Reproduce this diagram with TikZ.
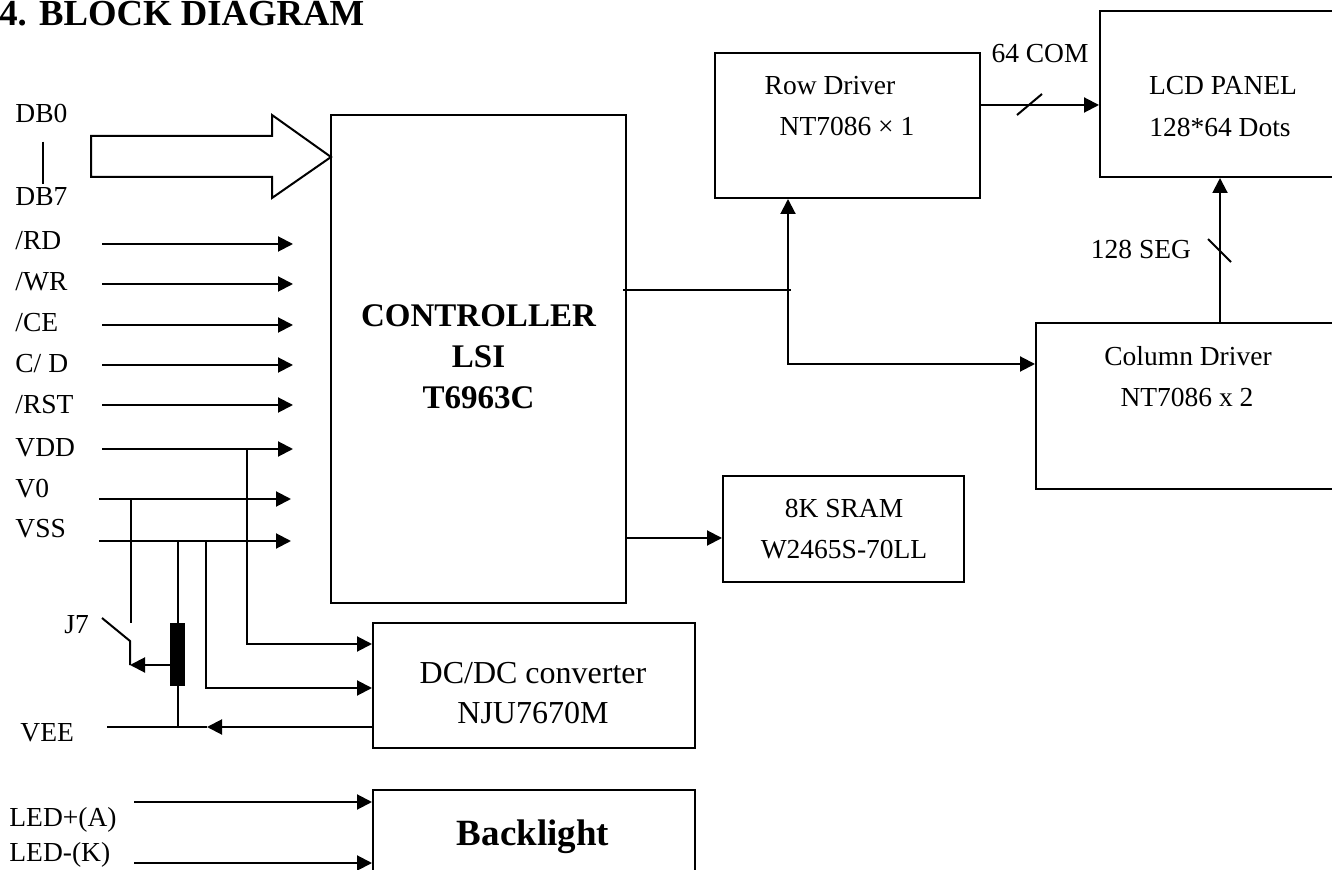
\documentclass[tikz,border=0pt]{standalone}
\usepackage{fontspec}
\setmainfont{Liberation Serif}
\usetikzlibrary{arrows.meta}

\tikzset{
    blk/.style={draw, line width=1pt, inner sep=0pt},
    wire/.style={line width=1pt},
    sig/.style={line width=1pt, -{Triangle[length=7.5pt,width=7.5pt]}},
    txt/.style={font=\fontsize{13.75}{16}\selectfont, anchor=base, inner sep=0pt},
    lbl/.style={txt, anchor=base west},
}

\begin{document}
\begin{tikzpicture}[x=0.5pt, y=-0.5pt]
    \useasboundingbox (0,0) rectangle (1332,870);
    \fill[white] (0,0) rectangle (1332,870);

    % title
    \node[lbl, font=\fontsize{18.35}{22}\selectfont\bfseries] (title) at (-1,26) {4. BLOCK DIAGRAM};

    % blocks
    \node[blk, minimum width=147.5pt, minimum height=244pt] (ctrl) at (478.5,359) {};
    \node[blk, minimum width=132.5pt, minimum height=72.5pt] (row) at (847.5,125.5) {};
    \node[blk, minimum width=121pt, minimum height=83pt] (lcd) at (1221,94) {};
    \node[blk, minimum width=152pt, minimum height=83pt] (col) at (1188,406) {};
    \node[blk, minimum width=120.5pt, minimum height=53pt] (sram) at (843.5,529) {};
    \node[blk, minimum width=161pt, minimum height=62.5pt] (dcdc) at (534,685.5) {};
    \node[blk, minimum width=161pt, minimum height=50pt] (blt) at (534,840) {};
    \node[fill, inner sep=0pt, minimum width=7.5pt, minimum height=31.5pt] (pot) at (177.5,654.5) {};

    % block texts
    \node[txt, font=\fontsize{16.5}{20}\selectfont\bfseries] (ctrlT1) at (478.5,327) {CONTROLLER};
    \node[txt, font=\fontsize{16.5}{20}\selectfont\bfseries] (ctrlT2) at (478.5,368) {LSI};
    \node[txt, font=\fontsize{16.5}{20}\selectfont\bfseries] (ctrlT3) at (478.5,409) {T6963C};
    \node[txt] (rowT1) at (830,95) {Row Driver};
    \node[txt] (rowT2) at (847,136) {NT7086 × 1};
    \node[txt] (lcdT1) at (1223,95) {LCD PANEL};
    \node[txt] (lcdT2) at (1220,137) {128*64 Dots};
    \node[txt] (colT1) at (1188,366) {Column Driver};
    \node[txt] (colT2) at (1187,407) {NT7086 x 2};
    \node[txt] (sramT1) at (844,518) {8K SRAM};
    \node[txt] (sramT2) at (844,559) {W2465S-70LL};
    \node[txt, font=\fontsize{16}{19}\selectfont] (dcdcT1) at (533,683) {DC/DC converter};
    \node[txt, font=\fontsize{16}{19}\selectfont] (dcdcT2) at (533,723) {NJU7670M};
    \node[txt, font=\fontsize{18.5}{22}\selectfont\bfseries] (bltT) at (533,845) {Backlight};

    % data bus
    \node[lbl] (db0) at (15,123) {DB0};
    \node[lbl] (db7) at (15,206) {DB7};
    \draw[wire] ([shift={(2,18)}]db0.south) -- ++(0,42);
    \coordinate (busTip) at (331,157);
    \draw[wire] (91,136) -- (272,136) -- (272,115) -- (busTip) -- (272,198) -- (272,177) -- (91,177) -- cycle;

    % control inputs
    \coordinate (inEnd) at (293,0);
    \node[lbl] (rd) at (15,250) {/RD};
    \coordinate (rdS) at (102,244);
    \draw[sig] (rdS) -- (rdS -| inEnd);
    \node[lbl] (wr) at (15,291) {/WR};
    \coordinate (wrS) at (102,284);
    \draw[sig] (wrS) -- (wrS -| inEnd);
    \node[lbl] (ce) at (15,332) {/CE};
    \coordinate (ceS) at (102,325);
    \draw[sig] (ceS) -- (ceS -| inEnd);
    \node[lbl] (cd) at (15,373) {C/ D};
    \coordinate (cdS) at (102,365);
    \draw[sig] (cdS) -- (cdS -| inEnd);
    \node[lbl] (rst) at (15,414) {/RST};
    \coordinate (rstS) at (102,405);
    \draw[sig] (rstS) -- (rstS -| inEnd);

    % power
    \node[lbl] (vdd) at (15,457) {VDD};
    \coordinate (vddS) at (102,449);
    \draw[sig] (vddS) -- (vddS -| inEnd);
    \node[lbl] (v0) at (15,498) {V0};
    \coordinate (v0S) at (99,499);
    \draw[sig] (v0S) -- ([xshift=-1pt]v0S -| inEnd);
    \node[lbl] (vss) at (15,538) {VSS};
    \coordinate (vssS) at (99,541);
    \draw[sig] (vssS) -- ([xshift=-1pt]vssS -| inEnd);

    % dc/dc wiring
    \coordinate (vddJ) at (247,449);
    \coordinate (v0J) at (131,499);
    \coordinate (vssJ1) at (178,541);
    \coordinate (vssJ2) at (206,541);
    \coordinate (dcIn1) at (0,644);
    \coordinate (dcIn2) at (0,688);
    \draw[sig] (vddJ) |- (dcdc.west |- dcIn1);
    \draw[sig] (vssJ2) |- (dcdc.west |- dcIn2);
    \draw[wire] (vssJ1) -- (vssJ1 |- pot.north);

    % J7 switch
    \node[lbl] (j7) at (64,633) {J7};
    \coordinate (swTop) at (131,623);
    \coordinate (swEnd) at (102,618);
    \coordinate (swPiv) at (130,641);
    \coordinate (wiper) at (130,665);
    \draw[wire] (v0J) -- (swTop);
    \draw[wire] (swEnd) -- (swPiv) -- (wiper);
    \draw[sig] (pot.west |- wiper) -- (wiper);

    % VEE
    \node[lbl] (vee) at (20,741) {VEE};
    \coordinate (veeL) at (107,727);
    \coordinate (veeMid) at (207,727);
    \draw[sig] (dcdc.west |- veeL) -- (veeMid);
    \draw[wire] (veeMid) -- (veeL);
    \draw[wire] (pot.south) -- (pot.south |- veeL);

    % controller outputs
    \coordinate (bus) at (788,290);
    \draw[wire] ([xshift=-2pt]ctrl.east |- bus) -- ([xshift=1.5pt]bus);
    \draw[sig] (bus) -- (bus |- row.south);
    \coordinate (colIn) at (0,364);
    \draw[sig] (bus) |- (col.west |- colIn);
    \coordinate (sramIn) at (0,538);
    \draw[sig] (ctrl.east |- sramIn) -- (sram.west |- sramIn);

    % drivers to panel
    \coordinate (com) at (1030,105);
    \draw[sig] (row.east |- com) -- (lcd.west |- com);
    \draw[wire] ([shift={(-13,10)}]com) -- ([shift={(12,-11)}]com);
    \node[txt] (comT) at (1040,63) {64 COM};
    \coordinate (seg) at (1220,250);
    \draw[sig] (col.north -| seg) -- (lcd.south -| seg);
    \draw[wire] ([shift={(-12,-11)}]seg) -- ([shift={(11,12)}]seg);
    \node[txt] (segT) at (1141,259) {128 SEG};

    % backlight
    \node[lbl] (ledA) at (9,826) {LED+(A)};
    \coordinate (ledAS) at (134,802);
    \draw[sig] (ledAS) -- (blt.west |- ledAS);
    \node[lbl] (ledK) at (9,861) {LED-(K)};
    \coordinate (ledKS) at (134,863);
    \draw[sig] (ledKS) -- (blt.west |- ledKS);
\end{tikzpicture}
\end{document}
